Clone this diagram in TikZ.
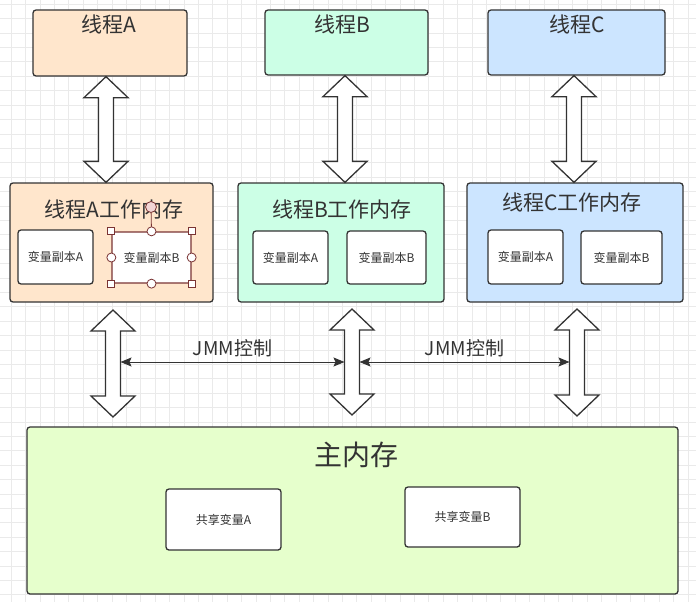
\documentclass[tikz,border=0pt]{standalone}
\usepackage{fontspec}
\setmainfont{Noto Sans CJK SC}
\usetikzlibrary{calc,arrows.meta}

\definecolor{lineC}{HTML}{333333}
\definecolor{txtC}{HTML}{333333}
\definecolor{fillA}{HTML}{FFE6CC}
\definecolor{fillB}{HTML}{CCFFE6}
\definecolor{fillC}{HTML}{CCE5FF}
\definecolor{fillM}{HTML}{E6FFCC}
\definecolor{gridC}{HTML}{EAEAEA}
\definecolor{selC}{HTML}{7A3434}
\definecolor{rotC}{HTML}{F3D6D6}

\tikzstyle{boxS}=[draw=lineC, line width=1.3pt, rounded corners=3pt, inner sep=0pt]
\tikzstyle{inS}=[boxS, fill=white, text=txtC, font=\fontsize{12}{14}\selectfont]
\tikzstyle{tiS}=[text=txtC, inner sep=0pt, font=\fontsize{21}{24}\selectfont]
\tikzstyle{fatS}=[draw=lineC, line width=1.3pt, fill=white, line join=miter]
\tikzstyle{jmmS}=[draw=lineC, line width=1pt, {Stealth[length=11pt,width=9pt,inset=2pt]}-{Stealth[length=11pt,width=9pt,inset=2pt]}]
\tikzstyle{jlS}=[text=txtC, inner sep=0pt, yshift=14pt, font=\fontsize{19}{22}\selectfont]
\tikzstyle{sqS}=[draw=selC, fill=white, line width=0.8pt, minimum size=7pt, inner sep=0pt]
\tikzstyle{ciS}=[circle, draw=selC, fill=white, line width=0.8pt, minimum size=9pt, inner sep=0pt]
\tikzstyle{rotS}=[circle, draw=selC, fill=rotC, line width=0.8pt, minimum size=11pt, inner sep=0pt]

% fat double arrow between two points on one vertical
\newcommand{\dblarrow}[2]{\draw[fatS] (#1) -- ($(#1)+(22,21)$) -- ($(#1)+(7.5,21)$) -- ($(#2)+(7.5,-21)$) -- ($(#2)+(22,-21)$) -- (#2) -- ($(#2)+(-22,-21)$) -- ($(#2)+(-7.5,-21)$) -- ($(#1)+(-7.5,21)$) -- ($(#1)+(-22,21)$) -- cycle;}

\begin{document}
\begin{tikzpicture}[x=1pt, y=-1pt]
                \useasboundingbox (0,0) rectangle (696,602);
                \fill[white] (0,0) rectangle (696,602);
                \foreach \gx in {11.1,25.5,...,696} \draw[gridC, line width=0.6pt] (\gx,0) -- (\gx,602);
                \foreach \gy in {4.2,18.6,...,602} \draw[gridC, line width=0.6pt] (0,\gy) -- (696,\gy);
                % threads
                \draw (110,43) node[boxS, fill=fillA, minimum width=154pt, minimum height=66pt] (tA) {};
                \draw (346.5,42.5) node[boxS, fill=fillB, minimum width=163pt, minimum height=65pt] (tB) {};
                \draw (576.5,42.5) node[boxS, fill=fillC, minimum width=177pt, minimum height=65pt] (tC) {};
                \draw (109,24) node[tiS] (tAt) {线程A};
                \draw (342,24) node[tiS] (tBt) {线程B};
                \draw (577,24) node[tiS] (tCt) {线程C};
                % working memories
                \draw (111.5,242.5) node[boxS, fill=fillA, minimum width=203pt, minimum height=119pt] (wA) {};
                \draw (341,242.5) node[boxS, fill=fillB, minimum width=206pt, minimum height=119pt] (wB) {};
                \draw (575,242.5) node[boxS, fill=fillC, minimum width=216pt, minimum height=119pt] (wC) {};
                \draw (114,210) node[tiS] (wAt) {线程A工作内存};
                \draw (342,210) node[tiS] (wBt) {线程B工作内存};
                \draw (572,203) node[tiS] (wCt) {线程C工作内存};
                \draw (55.5,257) node[inS, minimum width=75pt, minimum height=54pt] (vAA) {变量副本A};
                \draw (151.5,257.5) node[inS, draw=selC, minimum width=79pt, minimum height=51pt] (vAB) {变量副本B};
                \draw (290.5,257.5) node[inS, minimum width=75pt, minimum height=53pt] (vBA) {变量副本A};
                \draw (386.5,257.5) node[inS, minimum width=79pt, minimum height=53pt] (vBB) {变量副本B};
                \draw (525.5,257) node[inS, minimum width=75pt, minimum height=54pt] (vCA) {变量副本A};
                \draw (621.5,257.5) node[inS, minimum width=81pt, minimum height=53pt] (vCB) {变量副本B};
                % selection handles
                \draw (151,207) node[rotS] (rotH) {};
                \draw[selC, line width=0.8pt] (rotH) -- (vAB.north);
                \foreach \an in {north west, north east, south west, south east} \node[sqS] at (vAB.\an) {};
                \foreach \an in {north, south, east, west} \node[ciS] at (vAB.\an) {};
                % main memory
                \draw (352.5,510.5) node[boxS, fill=fillM, minimum width=651pt, minimum height=167pt] (mem) {};
                \draw (356,455) node[tiS, font=\fontsize{28}{32}\selectfont] (memt) {主内存};
                \draw (223.5,519.5) node[inS, minimum width=115pt, minimum height=61pt] (sA) {共享变量A};
                \draw (462.5,517) node[inS, minimum width=115pt, minimum height=60pt] (sB) {共享变量B};
                % fat arrows
                \coordinate (uA1) at (106,0 |- tA.south);  \coordinate (uA2) at (106,0 |- wA.north);
                \coordinate (uB1) at (345,0 |- tB.south);  \coordinate (uB2) at (345,0 |- wB.north);
                \coordinate (uC1) at (574,0 |- tC.south);  \coordinate (uC2) at (574,0 |- wC.north);
                \coordinate (dA1) at (113,310);  \coordinate (dA2) at (113,417);
                \coordinate (dB1) at (352,309);  \coordinate (dB2) at (352,415);
                \coordinate (dC1) at (577,309);  \coordinate (dC2) at (577,416);
                \dblarrow{uA1}{uA2}
                \dblarrow{uB1}{uB2}
                \dblarrow{uC1}{uC2}
                \dblarrow{dA1}{dA2}
                \dblarrow{dB1}{dB2}
                \dblarrow{dC1}{dC2}
                % JMM
                \coordinate (jA) at (120.5,362);
                \coordinate (jBl) at (344.5,362);
                \coordinate (jBr) at (359.5,362);
                \coordinate (jC) at (569.5,362);
                \path
                    (jA) edge[jmmS] node[jlS]{JMM控制} (jBl)
                    (jBr) edge[jmmS] node[jlS]{JMM控制} (jC)
                ;
        \end{tikzpicture}
\end{document}
